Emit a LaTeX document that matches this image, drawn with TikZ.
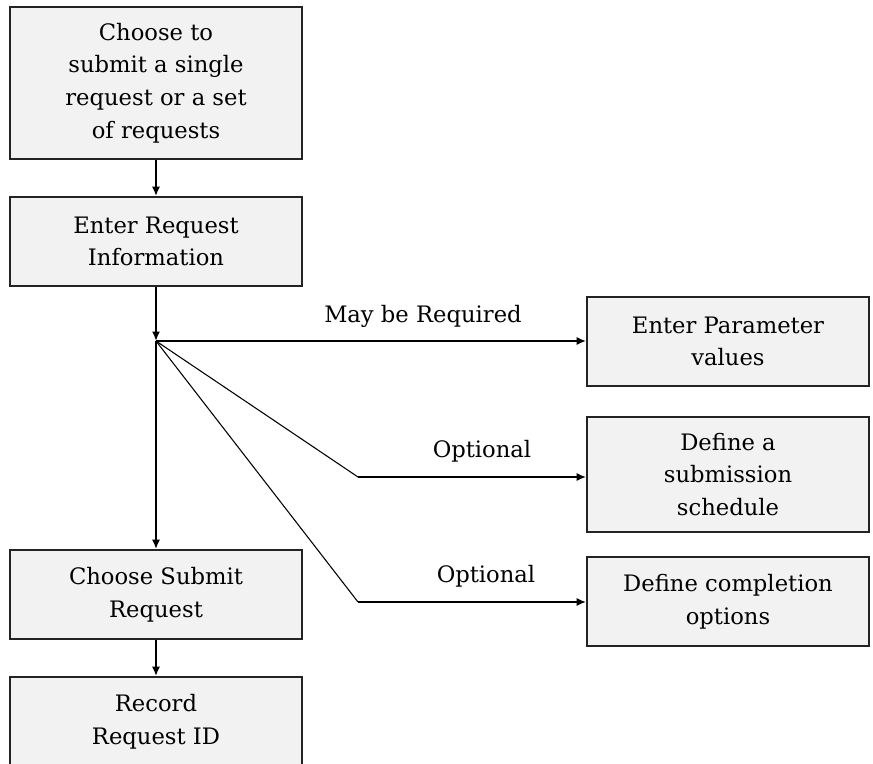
\documentclass[tikz,border=0pt]{standalone}
\usepackage{fontspec}
\setmainfont{DejaVu Serif}
\usetikzlibrary{arrows.meta}

\tikzset{
  stepbox/.style={draw={rgb, 255:red, 35; green, 35; blue, 35 }, line width=1.4, fill={rgb, 255:red, 242; green, 242; blue, 242 }, align=center, inner sep=0.75pt, font=\fontsize{17}{24.5}\selectfont},
  flowline/.style={line width=1.3, -{Latex[length=7pt,width=6pt]}},
  thinline/.style={line width=0.8},
  lbl/.style={inner sep=0.75pt, font=\fontsize{17}{24.5}\selectfont},
}

\begin{document}
\begin{tikzpicture}[x=0.75pt,y=0.75pt,yscale=-1,xscale=1]
  \useasboundingbox (0,0) rectangle (873,763);

  %Shape: Rectangle [choose]
  \node [stepbox, minimum width=219pt, minimum height=114pt] (choose) at (156,83) {Choose to\\ submit a single\\ request or a set\\ of requests};
  %Shape: Rectangle [enter]
  \node [stepbox, minimum width=219pt, minimum height=66.75pt] (enter) at (156,241.5) {Enter Request\\ Information};
  %Shape: Rectangle [submit]
  \node [stepbox, minimum width=219pt, minimum height=66.75pt] (submit) at (156,594.5) {Choose Submit\\ Request};
  %Shape: Rectangle [record]
  \node [stepbox, minimum width=219pt, minimum height=67.5pt] (record) at (156,722) {Record\\ Request ID};

  %Shape: Rectangle [params]
  \node [stepbox, minimum width=211.5pt, minimum height=66.75pt] (params) at (728,341.5) {Enter Parameter\\ values};
  %Shape: Rectangle [schedule]
  \node [stepbox, minimum width=211.5pt, minimum height=86.25pt] (schedule) at (728,474.5) {Define a\\ submission\\ schedule};
  %Shape: Rectangle [completion]
  \node [stepbox, minimum width=211.5pt, minimum height=66.75pt] (completion) at (728,601.5) {Define completion\\ options};

  % branch point and elbows
  \coordinate (split) at (156,341);
  \coordinate (elbowA) at (358,477);
  \coordinate (elbowB) at (358,602);

  %Straight Lines
  \draw [flowline] (choose) -- (enter);
  \draw [flowline] (enter) -- (split);
  \draw [flowline] (split) -- (submit);
  \draw [flowline] (submit) -- (record);
  \draw [flowline] (split) -- (params.west |- split);
  \draw [thinline] (split) -- (elbowA);
  \draw [flowline] (elbowA) -- (schedule.west |- elbowA);
  \draw [thinline] (split) -- (elbowB);
  \draw [flowline] (elbowB) -- (completion.west |- elbowB);

  % Text Node
  \node [lbl] (reqlabel) at (423,316) {May be Required};
  % Text Node
  \node [lbl] (optlabelA) at (482,451) {Optional};
  % Text Node
  \node [lbl] (optlabelB) at (486,576) {Optional};
\end{tikzpicture}
\end{document}
